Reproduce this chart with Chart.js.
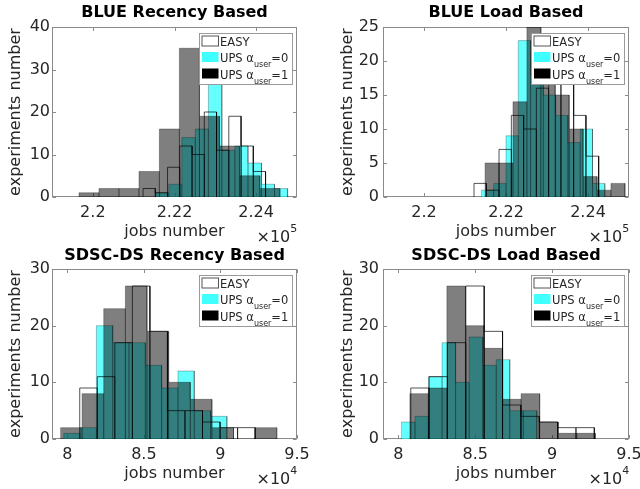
<!DOCTYPE html>
<html>
<head>
<meta charset="utf-8">
<script src="https://cdn.jsdelivr.net/npm/chart.js@4.4.1/dist/chart.umd.min.js"></script>
<style>
  body { margin: 0; background: #fff; width: 640px; height: 489px; position: relative; overflow: hidden; }
  canvas { position: absolute; }
</style>
</head>
<body>
<canvas id="c1" width="320" height="244" style="left:0;top:0"></canvas>
<canvas id="c2" width="320" height="244" style="left:320px;top:0"></canvas>
<canvas id="c3" width="320" height="245" style="left:0;top:244px"></canvas>
<canvas id="c4" width="320" height="245" style="left:320px;top:244px"></canvas>
<script>
// Histogram data (10 bins per run, x in units of the axis multiplier)

const panelTitles = ['BLUE Recency Based', 'BLUE Load Based', 'SDSC-DS Recency Based', 'SDSC-DS Load Based'];
const legendEntries = [
    { text: 'EASY' },
    { text: 'UPS \u03b1', sub: 'user', tail: '=0' },
    { text: 'UPS \u03b1', sub: 'user', tail: '=1' }
];

// tick labels
const blueXTicks = [2.2, 2.22, 2.24];
const sdscXTicks = [8, 8.5, 9, 9.5];
const blueRecYTicks = [0, 10, 20, 30, 40];
const blueLoadYTicks = [0, 5, 10, 15, 20, 25];
const sdscYTicks = [0, 10, 20, 30];
const blueExponent = '5';
const sdscExponent = '4';

// BLUE Recency Based
const blueRecEasyEdges = [2.2123, 2.2153, 2.2183, 2.2213, 2.2243, 2.2273, 2.2303, 2.2333, 2.2363, 2.2393, 2.2423];
const blueRecEasyCounts = [2, 1, 7, 12, 10, 20, 11, 19, 12, 6];
const blueRecUps0Edges = [2.2154, 2.2186, 2.2218, 2.2251, 2.2283, 2.2316, 2.2348, 2.2380, 2.2413, 2.2445, 2.2477];
const blueRecUps0Counts = [1, 3, 14, 16, 30, 11, 12, 8, 3, 2];
const blueRecUps1Edges = [2.1966, 2.2015, 2.2064, 2.2113, 2.2163, 2.2212, 2.2261, 2.2310, 2.2359, 2.2409, 2.2458];
const blueRecUps1Counts = [1, 2, 2, 6, 16, 35, 19, 12, 5, 2];

// BLUE Load Based
const blueLoadEasyEdges = [2.2122, 2.2152, 2.2183, 2.2213, 2.2243, 2.2274, 2.2304, 2.2334, 2.2365, 2.2395, 2.2426];
const blueLoadEasyCounts = [2, 1, 7, 12, 10, 16, 17, 17, 12, 6];
const blueLoadUps0Edges = [2.2140, 2.2170, 2.2200, 2.2230, 2.2260, 2.2291, 2.2321, 2.2351, 2.2381, 2.2411, 2.2441];
const blueLoadUps0Counts = [1, 2, 9, 23, 18, 15, 12, 8, 10, 2];
const blueLoadUps1Edges = [2.2149, 2.2183, 2.2217, 2.2251, 2.2285, 2.2320, 2.2354, 2.2388, 2.2422, 2.2456, 2.2490];
const blueLoadUps1Counts = [5, 5, 14, 25, 20, 15, 10, 3, 1, 2];

// SDSC-DS Recency Based
const sdscRecEasyEdges = [8.0812, 8.1958, 8.3103, 8.4248, 8.5394, 8.6539, 8.7685, 8.8830, 8.9975, 9.1121, 9.2266];
const sdscRecEasyCounts = [9, 11, 17, 27, 19, 5, 5, 3, 2, 2];
const sdscRecUps0Edges = [7.9769, 8.0834, 8.1900, 8.2965, 8.4030, 8.5095, 8.6160, 8.7226, 8.8291, 8.9356, 9.0421];
const sdscRecUps0Counts = [1, 2, 20, 17, 17, 13, 9, 12, 5, 4];
const sdscRecUps1Edges = [7.9554, 8.0967, 8.2379, 8.3791, 8.5204, 8.6616, 8.8029, 8.9441, 9.0853, 9.2266, 9.3678];
const sdscRecUps1Counts = [2, 8, 23, 27, 19, 10, 7, 2, 0, 2];

// SDSC-DS Load Based
const sdscLoadEasyEdges = [8.0807, 8.2001, 8.3194, 8.4388, 8.5582, 8.6776, 8.7969, 8.9163, 9.0357, 9.1550, 9.2744];
const sdscLoadEasyCounts = [9, 11, 17, 27, 19, 6, 4, 3, 2, 2];
const sdscLoadUps0Edges = [8.0200, 8.1081, 8.1962, 8.2842, 8.3723, 8.4603, 8.5484, 8.6365, 8.7245, 8.8126, 8.9007];
const sdscLoadUps0Counts = [3, 4, 11, 17, 10, 18, 13, 14, 5, 5];
const sdscLoadUps1Edges = [8.0742, 8.1948, 8.3155, 8.4362, 8.5569, 8.6776, 8.7982, 8.9189, 9.0396, 9.1603, 9.2810];
const sdscLoadUps1Counts = [8, 9, 27, 20, 16, 7, 8, 3, 1, 1];

const FONT = "'DejaVu Sans', sans-serif";
const TEXT_COLOR = '#262626';
const CYAN_FILL = 'rgba(0, 255, 255, 0.6)';
const BLACK_FILL = 'rgba(0, 0, 0, 0.5)';

Chart.defaults.font.family = FONT;
Chart.defaults.color = TEXT_COLOR;

// Turn bin edges + counts into an outline of bars (each bar drawn up, across, down)
function histPoints(edges, counts) {
    const pts = [];
    counts.forEach((c, i) => {
        pts.push({ x: edges[i], y: 0 }, { x: edges[i], y: c }, { x: edges[i + 1], y: c }, { x: edges[i + 1], y: 0 });
    });
    return pts;
}

// Box round the plot with inward ticks, MATLAB style
const axesBox = {
    id: 'axesBox',
    beforeDatasetsDraw(chart) {
        const { ctx, chartArea: a, scales: { x, y } } = chart;
        const l = Math.round(a.left) + 0.5, r = Math.round(a.right) - 0.5;
        const t = Math.round(a.top) + 0.5, b = Math.round(a.bottom) - 0.5;
        ctx.save();
        ctx.strokeStyle = '#8a8a8a';
        ctx.lineWidth = 1;
        ctx.strokeRect(l, t, r - l, b - t);
        ctx.beginPath();
        x.ticks.forEach(tk => {
            const px = Math.round(x.getPixelForValue(tk.value)) + 0.5;
            ctx.moveTo(px, b); ctx.lineTo(px, b - 3.5);
            ctx.moveTo(px, t); ctx.lineTo(px, t + 3.5);
        });
        y.ticks.forEach(tk => {
            const py = Math.round(y.getPixelForValue(tk.value)) + 0.5;
            ctx.moveTo(l, py); ctx.lineTo(l + 3.5, py);
            ctx.moveTo(r, py); ctx.lineTo(r - 3.5, py);
        });
        ctx.stroke();
        ctx.restore();
    }
};

// Legend box in the top right corner of the plot
const boxLegend = {
    id: 'boxLegend',
    afterDraw(chart) {
        const { ctx, chartArea: a } = chart;
        const w = 93, h = 51;
        const x0 = Math.round(a.right - 5 - w) + 0.5, y0 = Math.round(a.top + 6) + 0.5;
        const swatches = [
            { fill: '#ffffff', stroke: '#555' },
            { fill: 'rgb(64, 255, 255)', stroke: null },
            { fill: '#000000', stroke: null }
        ];
        const baselines = [12.5, 28.5, 45];
        ctx.save();
        ctx.fillStyle = '#fff';
        ctx.fillRect(x0, y0, w, h);
        ctx.strokeStyle = '#9a9a9a';
        ctx.lineWidth = 1;
        ctx.strokeRect(x0, y0, w, h);
        ctx.textBaseline = 'alphabetic';
        legendEntries.forEach((entry, i) => {
            const base = y0 + baselines[i];
            const sw = swatches[i];
            ctx.fillStyle = sw.fill;
            ctx.fillRect(x0 + 2.5, base - 10, 16.5, 10);
            if (sw.stroke) {
                ctx.strokeStyle = sw.stroke;
                ctx.strokeRect(x0 + 2.5, base - 10, 16.5, 10);
            }
            ctx.fillStyle = TEXT_COLOR;
            ctx.font = '11.5px ' + FONT;
            let tx = x0 + 20.5;
            ctx.fillText(entry.text, tx, base);
            tx += ctx.measureText(entry.text).width;
            if (entry.sub) {
                ctx.font = '8px ' + FONT;
                ctx.fillText(entry.sub, tx, base + 5);
                tx += ctx.measureText(entry.sub).width;
                ctx.font = '11.5px ' + FONT;
                ctx.fillText(entry.tail, tx, base);
            }
        });
        ctx.restore();
    }
};

// "x10^n" multiplier under the right end of the x axis
const exponentLabel = {
    id: 'exponentLabel',
    afterDraw(chart, args, opts) {
        const { ctx, chartArea: a } = chart;
        const x0 = a.right - 40.5, base = a.bottom + 45;
        ctx.save();
        ctx.fillStyle = TEXT_COLOR;
        ctx.textBaseline = 'alphabetic';
        ctx.font = '16px ' + FONT;
        ctx.fillText('\u00d710', x0, base);
        const wMain = ctx.measureText('\u00d710').width;
        ctx.font = '11px ' + FONT;
        ctx.fillText(opts.power, x0 + wMain, base - 10.5);
        ctx.restore();
    }
};

function makePanel(cfg) {
    const canvas = document.getElementById(cfg.id);
    const W = canvas.width, H = canvas.height;
    const a = cfg.area;
    return new Chart(canvas, {
        type: 'line',
        data: {
            datasets: [
                {
                    label: 'EASY',
                    data: histPoints(cfg.easy[0], cfg.easy[1]),
                    fill: false,
                    borderColor: 'rgba(0, 0, 0, 0.68)',
                    borderWidth: 1
                },
                {
                    label: 'UPS alpha_user=1',
                    data: histPoints(cfg.ups1[0], cfg.ups1[1]),
                    fill: 'origin',
                    backgroundColor: BLACK_FILL,
                    borderColor: 'rgba(0, 0, 0, 0.3)',
                    borderWidth: 1
                },
                {
                    label: 'UPS alpha_user=0',
                    data: histPoints(cfg.ups0[0], cfg.ups0[1]),
                    fill: 'origin',
                    backgroundColor: CYAN_FILL,
                    borderColor: 'rgba(0, 0, 0, 0.25)',
                    borderWidth: 1
                }
            ]
        },
        options: {
            responsive: false,
            animation: false,
            events: [],
            elements: { point: { radius: 0 }, line: { tension: 0 } },
            layout: { padding: { left: 0, top: 0, bottom: 0, right: W - a.r } },
            plugins: {
                legend: { display: false },
                tooltip: { enabled: false },
                title: {
                    display: true,
                    fullSize: false,
                    text: cfg.title,
                    color: '#000',
                    font: { size: 16, weight: 'bold', lineHeight: 1 },
                    padding: { top: cfg.titleTop, bottom: a.t - 16 - cfg.titleTop }
                },
                exponentLabel: { power: cfg.exponent }
            },
            scales: {
                x: {
                    type: 'linear',
                    min: cfg.xMin,
                    max: cfg.xMax,
                    afterBuildTicks: s => { s.ticks = cfg.xTicks.map(v => ({ value: v })); },
                    afterFit: s => { s.height = H - a.b; s.paddingLeft = 0; s.paddingRight = 0; },
                    ticks: { callback: v => String(v), font: { size: 16 }, padding: 6, maxRotation: 0, autoSkip: false },
                    grid: { display: false, drawTicks: false },
                    border: { display: false },
                    title: {
                        display: true,
                        text: 'jobs number',
                        font: { size: 16 },
                        padding: { top: 0, bottom: H - a.b - 35 - 9.6 }
                    }
                },
                y: {
                    type: 'linear',
                    min: 0,
                    max: cfg.yTicks[cfg.yTicks.length - 1],
                    afterBuildTicks: s => { s.ticks = cfg.yTicks.map(v => ({ value: v })); },
                    afterFit: s => { s.width = a.l; s.paddingTop = 0; s.paddingBottom = 0; },
                    ticks: { font: { size: 16 }, padding: cfg.yTickPad },
                    grid: { display: false, drawTicks: false },
                    border: { display: false },
                    title: {
                        display: true,
                        text: 'experiments number',
                        font: { size: 16 },
                        padding: { top: cfg.yTitlePad, bottom: 0 }
                    }
                }
            }
        },
        plugins: [axesBox, boxLegend, exponentLabel]
    });
}

const panels = [
    {
        id: 'c1', title: panelTitles[0], xMin: 2.19, xMax: 2.25, xTicks: blueXTicks, yTicks: blueRecYTicks,
        exponent: blueExponent, area: { l: 52, r: 297, t: 27, b: 197 }, titleTop: 5, yTitlePad: 6, yTickPad: 2,
        easy: [blueRecEasyEdges, blueRecEasyCounts], ups0: [blueRecUps0Edges, blueRecUps0Counts], ups1: [blueRecUps1Edges, blueRecUps1Counts]
    },
    {
        id: 'c2', title: panelTitles[1], xMin: 2.19, xMax: 2.25, xTicks: blueXTicks, yTicks: blueLoadYTicks,
        exponent: blueExponent, area: { l: 63, r: 309, t: 27, b: 197 }, titleTop: 5, yTitlePad: 18, yTickPad: 4,
        easy: [blueLoadEasyEdges, blueLoadEasyCounts], ups0: [blueLoadUps0Edges, blueLoadUps0Counts], ups1: [blueLoadUps1Edges, blueLoadUps1Counts]
    },
    {
        id: 'c3', title: panelTitles[2], xMin: 7.9, xMax: 9.5, xTicks: sdscXTicks, yTicks: sdscYTicks,
        exponent: sdscExponent, area: { l: 52, r: 297, t: 25, b: 195 }, titleTop: 4, yTitlePad: 6, yTickPad: 2,
        easy: [sdscRecEasyEdges, sdscRecEasyCounts], ups0: [sdscRecUps0Edges, sdscRecUps0Counts], ups1: [sdscRecUps1Edges, sdscRecUps1Counts]
    },
    {
        id: 'c4', title: panelTitles[3], xMin: 7.9, xMax: 9.5, xTicks: sdscXTicks, yTicks: sdscYTicks,
        exponent: sdscExponent, area: { l: 63, r: 309, t: 25, b: 195 }, titleTop: 4, yTitlePad: 18, yTickPad: 4,
        easy: [sdscLoadEasyEdges, sdscLoadEasyCounts], ups0: [sdscLoadUps0Edges, sdscLoadUps0Counts], ups1: [sdscLoadUps1Edges, sdscLoadUps1Counts]
    }
];

panels.forEach(makePanel);
</script>
</body>
</html>
